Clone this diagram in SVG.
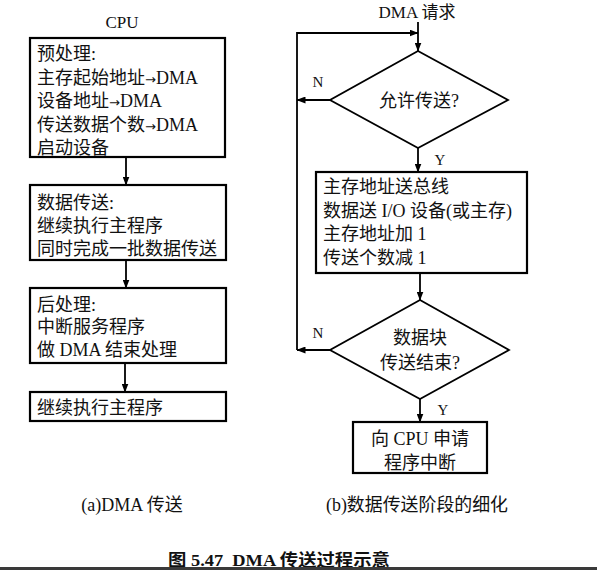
<svg xmlns="http://www.w3.org/2000/svg" width="597" height="570" viewBox="0 0 597 570">
<defs>
<marker id="ah" markerUnits="userSpaceOnUse" markerWidth="9" markerHeight="7" refX="8.5" refY="3.5" orient="auto">
<path d="M0,0 L9,3.5 L0,7 z" fill="#000"/>
</marker>
<style>
text{font-family:"Liberation Serif","Noto Sans CJK SC",serif;fill:#111;}
.t{font-size:18px;}
.s{font-size:17px;}
.n{font-size:15px;}
.c{text-anchor:middle;}
.ar{font-family:"DejaVu Sans",sans-serif;font-size:13px;}
.box{fill:#fff;stroke:#000;stroke-width:2.2;}
.dia{fill:#fff;stroke:#000;stroke-width:1.8;}
.ln{fill:none;stroke:#000;stroke-width:1.8;}
</style>
</defs>
<rect width="597" height="570" fill="#fff"/>
<g id="connectors">
<line class="ln" x1="126" y1="157" x2="126" y2="185" marker-end="url(#ah)"/>
<line class="ln" x1="126" y1="260" x2="126" y2="288" marker-end="url(#ah)"/>
<line class="ln" x1="125" y1="363" x2="125" y2="392" marker-end="url(#ah)"/>
<line class="ln" x1="418" y1="22" x2="418" y2="51" marker-end="url(#ah)"/>
<path class="ln" d="M297,350 V33 H418" marker-end="url(#ah)"/>
<line class="ln" x1="330" y1="100" x2="297" y2="100" marker-end="url(#ah)"/>
<line class="ln" x1="418" y1="148" x2="418" y2="172" marker-end="url(#ah)"/>
<line class="ln" x1="420" y1="273" x2="420" y2="300" marker-end="url(#ah)"/>
<line class="ln" x1="330" y1="350" x2="297" y2="350" marker-end="url(#ah)"/>
<line class="ln" x1="420" y1="399" x2="420" y2="422" marker-end="url(#ah)"/>
<text class="n c" x="318" y="87">N</text>
<text class="n c" x="318" y="338">N</text>
<text class="n c" x="440" y="165">Y</text>
<text class="n c" x="443" y="415">Y</text>
</g>
<g id="cpu-label"><text class="s c" x="122" y="28">CPU</text></g>
<g id="pre">
<rect class="box" x="30" y="38" width="195" height="119"/>
<text class="t" x="37" y="60">预处理:</text>
<text class="t" x="37" y="83.5">主存起始地址<tspan class="ar">→</tspan>DMA</text>
<text class="t" x="37" y="107">设备地址<tspan class="ar">→</tspan>DMA</text>
<text class="t" x="37" y="130.5">传送数据个数<tspan class="ar">→</tspan>DMA</text>
<text class="t" x="37" y="154">启动设备</text>
</g>
<g id="transfer">
<rect class="box" x="30" y="185" width="196" height="75"/>
<text class="t" x="37" y="209">数据传送:</text>
<text class="t" x="37" y="232">继续执行主程序</text>
<text class="t" x="37" y="255">同时完成一批数据传送</text>
</g>
<g id="post">
<rect class="box" x="30" y="288" width="196" height="75"/>
<text class="t" x="37" y="311">后处理:</text>
<text class="t" x="37" y="333">中断服务程序</text>
<text class="t" x="37" y="356">做 DMA 结束处理</text>
</g>
<g id="continue">
<rect class="box" x="30" y="392" width="196" height="29"/>
<text class="t" x="37" y="414">继续执行主程序</text>
</g>
<g id="dma-req"><text class="s c" x="417" y="18">DMA 请求</text></g>
<g id="allow">
<polygon class="dia" points="418,51 508,100 418,148 330,100"/>
<text class="t c" x="419" y="107">允许传送?</text>
</g>
<g id="bus">
<rect class="box" x="316" y="172" width="211" height="101"/>
<text class="t" x="323" y="193">主存地址送总线</text>
<text class="t" x="323" y="216.5">数据送 I/O 设备(或主存)</text>
<text class="t" x="323" y="240">主存地址加 1</text>
<text class="t" x="323" y="263.5">传送个数减 1</text>
</g>
<g id="done">
<polygon class="dia" points="420,300 509,350 420,399 330,350"/>
<text class="t c" x="420" y="344">数据块</text>
<text class="t c" x="420" y="369">传送结束?</text>
</g>
<g id="irq">
<rect class="box" x="353" y="422" width="134" height="51"/>
<text class="t c" x="420" y="445">向 CPU 申请</text>
<text class="t c" x="420" y="469">程序中断</text>
</g>
<g id="captions">
<text class="t c" x="132" y="511">(a)DMA 传送</text>
<text class="t" x="326" y="511" textLength="182" lengthAdjust="spacingAndGlyphs">(b)数据传送阶段的细化</text>
<text x="168" y="566" font-size="17" font-weight="bold" xml:space="preserve" textLength="222" lengthAdjust="spacingAndGlyphs">图 5.47  DMA 传送过程示意</text>
</g>
<rect x="0" y="567" width="597" height="3" fill="#3a3a3a"/>
</svg>
